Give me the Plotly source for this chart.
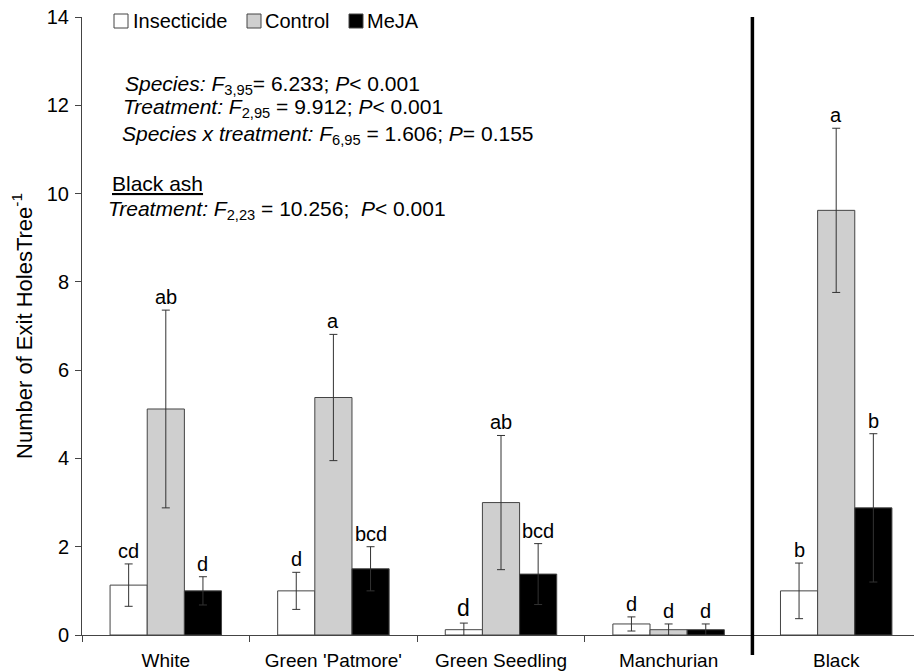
import plotly.graph_objects as go

# ---------------- data ----------------
species = ["White", "Green 'Patmore'", "Green Seedling", "Manchurian", "Black"]
treatments = ["Insecticide", "Control", "MeJA"]

insecticide = [1.13, 1.00, 0.12, 0.25, 1.00]
insecticide_se = [0.48, 0.42, 0.15, 0.16, 0.63]
control = [5.12, 5.38, 3.00, 0.12, 9.62]
control_se = [2.24, 1.43, 1.52, 0.13, 1.86]
meja = [1.00, 1.50, 1.38, 0.12, 2.88]
meja_se = [0.32, 0.50, 0.69, 0.13, 1.68]

letters_insecticide = ["cd", "d", "d", "d", "b"]
letters_control = ["ab", "a", "ab", "d", "a"]
letters_meja = ["d", "bcd", "bcd", "d", "b"]

y_ticks = [0, 2, 4, 6, 8, 10, 12, 14]

# ---------------- style ----------------
FONT = "Liberation Sans, Arial, Helvetica, sans-serif"
OFF = 8                      # page body margin of the html page
W, H = 922 - OFF, 671 - OFF
ML, MR, MT, MB = 82 - OFF, 2, 17 - OFF, 36
PW, PH = W - ML - MR, H - MT - MB
BARGAP = 0.335

fills = ["#ffffff", "#cfcfcf", "#000000"]
outline = "#444444"


def px_x(px):
    # window pixel -> paper x
    return (px - OFF - ML) / PW


def px_y(py):
    # window pixel -> paper y
    return (H - MB - (py - OFF)) / PH


fig = go.Figure()
series = [(insecticide, insecticide_se), (control, control_se), (meja, meja_se)]
for name, (vals, se), fill in zip(treatments, series, fills):
    fig.add_trace(go.Bar(
        x=species, y=vals, name=name,
        marker=dict(color=fill, line=dict(color=outline, width=1)),
        error_y=dict(type="data", array=se, symmetric=True,
                     color="#333333", thickness=1, width=4),
        showlegend=False,
    ))

# significance letters above error bars
bw = (1 - BARGAP) / 3
all_letters = [letters_insecticide, letters_control, letters_meja]
for j, ((vals, se), lets) in enumerate(zip(series, all_letters)):
    for i, (v, s, lt) in enumerate(zip(vals, se, lets)):
        size = 23 if (j == 0 and i == 2) else 20
        fig.add_annotation(
            x=i + (j - 1) * bw, y=v + s, text=lt, showarrow=False,
            xref="x", yref="y", yanchor="bottom", yshift=0,
            font=dict(size=size, family=FONT, color="black"),
        )

# manual legend
legend_items = [("Insecticide", fills[0], 114, 133),
                ("Control", fills[1], 247, 265),
                ("MeJA", fills[2], 349, 367)]
for name, fill, bx, tx in legend_items:
    fig.add_shape(type="rect", xref="paper", yref="paper",
                  x0=px_x(bx), x1=px_x(bx + 14), y0=px_y(28), y1=px_y(14),
                  fillcolor=fill, line=dict(color=outline, width=1))
    fig.add_annotation(xref="paper", yref="paper", x=px_x(tx - 2), y=px_y(21),
                       xanchor="left", yanchor="middle", text=name, showarrow=False,
                       font=dict(size=20, family=FONT, color="black"))

# statistics text
stats = [
    ("<i>Species:</i> <i>F</i><sub>3,95</sub>= 6.233; <i>P</i>&lt; 0.001", 125, 85),
    ("<i>Treatment:</i> <i>F</i><sub>2,95</sub> = 9.912; <i>P</i>&lt; 0.001", 123, 108),
    ("<i>Species x treatment:</i> <i>F</i><sub>6,95</sub> = 1.606; <i>P</i>= 0.155", 122, 135),
    ("<span style='text-decoration:underline'>Black ash</span>", 112, 183),
    ("<i>Treatment:</i> <i>F</i><sub>2,23</sub> = 10.256;  <i>P</i>&lt; 0.001", 108, 210),
]
for txt, lx, cy in stats:
    fig.add_annotation(xref="paper", yref="paper", x=px_x(lx - 2), y=px_y(cy),
                       xanchor="left", yanchor="middle", text=txt, showarrow=False,
                       font=dict(size=21, family=FONT, color="black"))

# thick separator before Black ash
fig.add_shape(type="line", xref="x", yref="paper", x0=3.5, x1=3.5,
              y0=px_y(655), y1=1.0, line=dict(color="black", width=3.5))

fig.update_layout(
    width=W, height=H,
    margin=dict(l=ML, r=MR, t=MT, b=MB, autoexpand=False),
    paper_bgcolor="white", plot_bgcolor="white",
    barmode="group", bargap=BARGAP, bargroupgap=0,
    font=dict(family=FONT, size=20, color="black"),
    showlegend=False,
)
fig.update_xaxes(
    range=[-0.5, 4.5], showline=True, linecolor="#444444", linewidth=1,
    ticks="outside", ticklen=6, tickcolor="#444444", tickson="boundaries",
    showgrid=False, zeroline=False, automargin=False, ticklabelstandoff=8,
    ticklabeloverflow="allow",
    tickfont=dict(size=19, family=FONT, color="black"),
)
fig.update_yaxes(
    range=[0, 14], tickvals=y_ticks, showline=True, linecolor="#444444", linewidth=1,
    ticks="outside", ticklen=6, tickcolor="#444444",
    showgrid=False, zeroline=False, automargin=False, ticklabelstandoff=2,
    ticklabeloverflow="allow",
    tickfont=dict(size=20, family=FONT, color="black"),
    title=dict(text="Number of Exit HolesTree<sup>-1</sup>",
               font=dict(size=22, family=FONT, color="black"), standoff=8),
)

fig.write_html("out.html")
